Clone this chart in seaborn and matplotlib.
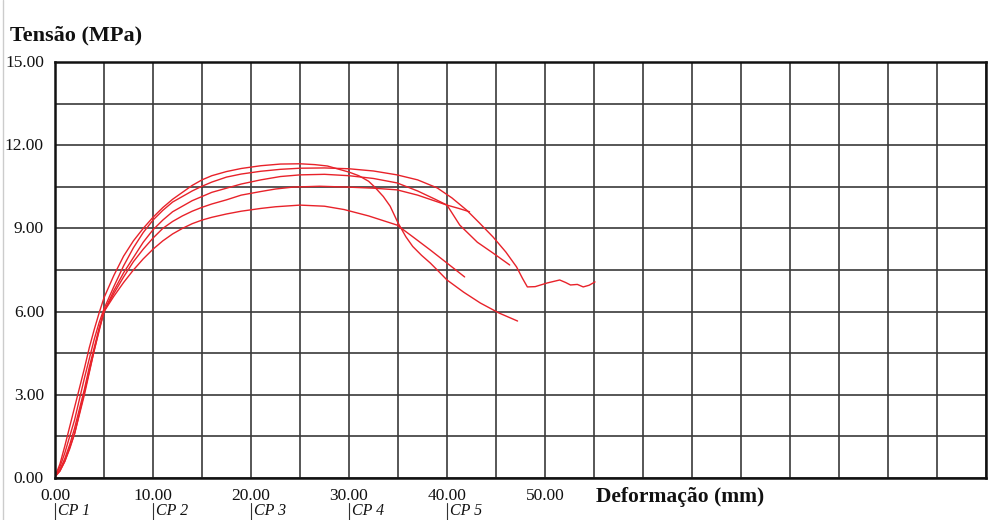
import numpy as np
import pandas as pd
import matplotlib
matplotlib.use("Agg")
import matplotlib.pyplot as plt
from matplotlib.lines import Line2D
import matplotlib.transforms as mtransforms
import seaborn as sns

# ---- data ----
cp1_x = [0, 0.5, 1, 1.5, 2, 2.5, 3, 3.5, 4, 4.5, 5, 6, 7, 8, 9, 10, 11, 12, 13, 14, 15, 16,
         17.5, 19, 21, 23, 25, 26.5, 27.8, 29.1, 30, 31, 32, 32.6, 33.5, 34.2, 35.0, 35.8,
         36.5, 37.4, 38.3, 39.2, 40, 41.7, 43.4, 45.3, 47.2]
cp1_y = [0.05, 0.5, 1.15, 1.85, 2.55, 3.25, 3.95, 4.7, 5.35, 5.95, 6.5, 7.3, 8.0, 8.55, 9.0,
         9.4, 9.75, 10.05, 10.3, 10.55, 10.75, 10.9, 11.05, 11.16, 11.26, 11.32, 11.33, 11.3,
         11.25, 11.12, 11.03, 10.9, 10.7, 10.5, 10.15, 9.8, 9.2, 8.7, 8.35, 8.03, 7.75, 7.43,
         7.14, 6.7, 6.31, 5.95, 5.66]

cp2_x = [0, 0.5, 1, 1.5, 2, 2.5, 3, 3.5, 4, 4.5, 5, 6, 7, 8, 9, 10, 11, 12, 13, 14, 15, 16,
         17.5, 19, 21, 23, 25, 27.5, 30, 32.5, 34.9, 37, 39, 40.5, 42, 43.3, 44.7, 46, 47.1,
         47.7, 48.2, 49, 50.2, 51.5, 52.1, 52.6, 53.3, 53.9, 54.5, 55.1]
cp2_y = [0.05, 0.4, 0.9, 1.5, 2.1, 2.85, 3.6, 4.3, 5.0, 5.6, 6.1, 6.9, 7.65, 8.3, 8.85, 9.3,
         9.65, 9.95, 10.15, 10.35, 10.52, 10.67, 10.85, 10.96, 11.06, 11.13, 11.17, 11.18,
         11.15, 11.07, 10.93, 10.75, 10.46, 10.1, 9.66, 9.2, 8.69, 8.15, 7.61, 7.2, 6.89, 6.9,
         7.03, 7.14, 7.05, 6.96, 6.98, 6.89, 6.95, 7.07]

cp3_x = [0, 0.5, 1, 1.5, 2, 2.5, 3, 3.5, 4, 4.5, 5, 6, 7, 8, 9, 10, 11, 12, 13, 14, 15, 16,
         17.5, 19, 21, 23, 25, 27.5, 30, 32.5, 34.9, 37, 38.8, 40, 41.3, 43.1, 44.7, 46.4]
cp3_y = [0.05, 0.3, 0.7, 1.2, 1.8, 2.5, 3.2, 4.0, 4.7, 5.4, 6.0, 6.75, 7.4, 7.95, 8.5, 8.95,
         9.3, 9.6, 9.8, 10.0, 10.15, 10.3, 10.45, 10.6, 10.75, 10.87, 10.93, 10.95, 10.9, 10.8,
         10.64, 10.35, 10.05, 9.84, 9.12, 8.5, 8.11, 7.68]

cp4_x = [0, 0.5, 1, 1.5, 2, 2.5, 3, 3.5, 4, 4.5, 5, 6, 7, 8, 9, 10, 11, 12, 13, 14, 15, 16,
         17.5, 19, 21, 22.5, 24.3, 27, 29.8, 32.5, 34.9, 37, 40, 41.2, 42.3]
cp4_y = [0.05, 0.25, 0.6, 1.05, 1.6, 2.3, 3.0, 3.8, 4.6, 5.35, 6.0, 6.65, 7.25, 7.8, 8.25,
         8.65, 9.0, 9.25, 9.45, 9.62, 9.76, 9.88, 10.03, 10.2, 10.33, 10.42, 10.49, 10.52,
         10.49, 10.45, 10.39, 10.2, 9.84, 9.72, 9.6]

cp5_x = [0, 0.5, 1, 1.5, 2, 2.5, 3, 3.5, 4, 4.5, 5, 6, 7, 8, 9, 10, 11, 12, 13, 14, 15, 16,
         17.5, 19, 21, 22.5, 25, 27.5, 29.5, 32, 34.9, 36.5, 38.3, 40, 41.8]
cp5_y = [0.05, 0.25, 0.6, 1.1, 1.6, 2.35, 3.1, 3.85, 4.6, 5.3, 6.0, 6.55, 7.05, 7.5, 7.9,
         8.25, 8.55, 8.8, 9.0, 9.17, 9.3, 9.4, 9.52, 9.62, 9.72, 9.78, 9.84, 9.8, 9.68, 9.45,
         9.12, 8.7, 8.22, 7.75, 7.25]

series_names = ["CP 1", "CP 2", "CP 3", "CP 4", "CP 5"]
legend_x = [0, 10, 20, 30, 40]
x_tick_labels = ["0.00", "10.00", "20.00", "30.00", "40.00", "50.00"]
y_tick_labels = ["0.00", "3.00", "6.00", "9.00", "12.00", "15.00"]

frames = []
for name, xs, ys in zip(series_names,
                        [cp1_x, cp2_x, cp3_x, cp4_x, cp5_x],
                        [cp1_y, cp2_y, cp3_y, cp4_y, cp5_y]):
    frames.append(pd.DataFrame({"x": xs, "y": ys, "cp": name}))
df = pd.concat(frames, ignore_index=True)

# ---- figure ----
sns.set_theme(style="white")
plt.rcParams["font.family"] = ["Liberation Serif", "DejaVu Serif"]

fig = plt.figure(figsize=(9.92, 5.2), dpi=100)
ax = fig.add_axes([55 / 992, 42 / 520, (986 - 55) / 992, (478 - 62) / 520])

red = "#e8222a"
sns.lineplot(data=df, x="x", y="y", hue="cp", units="cp", estimator=None, sort=False,
             palette=[red] * 5, linewidth=1.0, legend=False, ax=ax)

ax.set_xlim(0, 95)
ax.set_ylim(0, 15)
ax.set_xticks(np.arange(0, 95.1, 5))
ax.set_yticks(np.arange(0, 15.01, 1.5))
xl = []
for v in np.arange(0, 95.1, 5):
    iv = int(round(v))
    xl.append(x_tick_labels[iv // 10] if iv % 10 == 0 and iv // 10 < len(x_tick_labels) else "")
ax.set_xticklabels(xl)
yl = []
for i, v in enumerate(np.arange(0, 15.01, 1.5)):
    yl.append(y_tick_labels[i // 2] if i % 2 == 0 else "")
ax.set_yticklabels(yl)
ax.tick_params(axis="both", length=0, labelsize=12.5, colors="#111111")
ax.tick_params(axis="x", pad=7)
ax.tick_params(axis="y", pad=8)
offset = mtransforms.ScaledTranslation(0, 1 / 100, fig.dpi_scale_trans)
for lab in ax.get_yticklabels():
    lab.set_transform(lab.get_transform() + offset)

ax.grid(True, color="#3a3a3a", linewidth=1.2)
ax.set_axisbelow(True)
for s in ax.spines.values():
    s.set_visible(True)
    s.set_color("#111111")
    s.set_linewidth(1.8)
ax.set_xlabel("")
ax.set_ylabel("")

fig.text(10 / 992, 1 - 35 / 520, "Tensão (MPa)", fontsize=16, fontweight="bold",
         ha="left", va="center", color="#111111")
fig.text(596 / 992, 1 - 497 / 520, "Deformação (mm)", fontsize=15.5, fontweight="bold",
         ha="left", va="center", color="#111111")

# series labels below the axis
trans = mtransforms.blended_transform_factory(ax.transData, fig.transFigure)
for name, lx in zip(series_names, legend_x):
    ax.add_line(Line2D([lx, lx], [1 - 503 / 520, 1 - 520 / 520], transform=trans,
                       color="#333333", linewidth=0.8, clip_on=False))
    ax.text(lx + 0.35, 1 - 511 / 520, name, transform=trans, fontsize=11.5, fontstyle="italic",
            ha="left", va="center", color="#111111")

# thin frame line at the left edge
fig.add_artist(Line2D([3 / 992, 3 / 992], [0, 1], transform=fig.transFigure,
                      color="#cccccc", linewidth=1.0))

fig.savefig("out.png", dpi=100)
